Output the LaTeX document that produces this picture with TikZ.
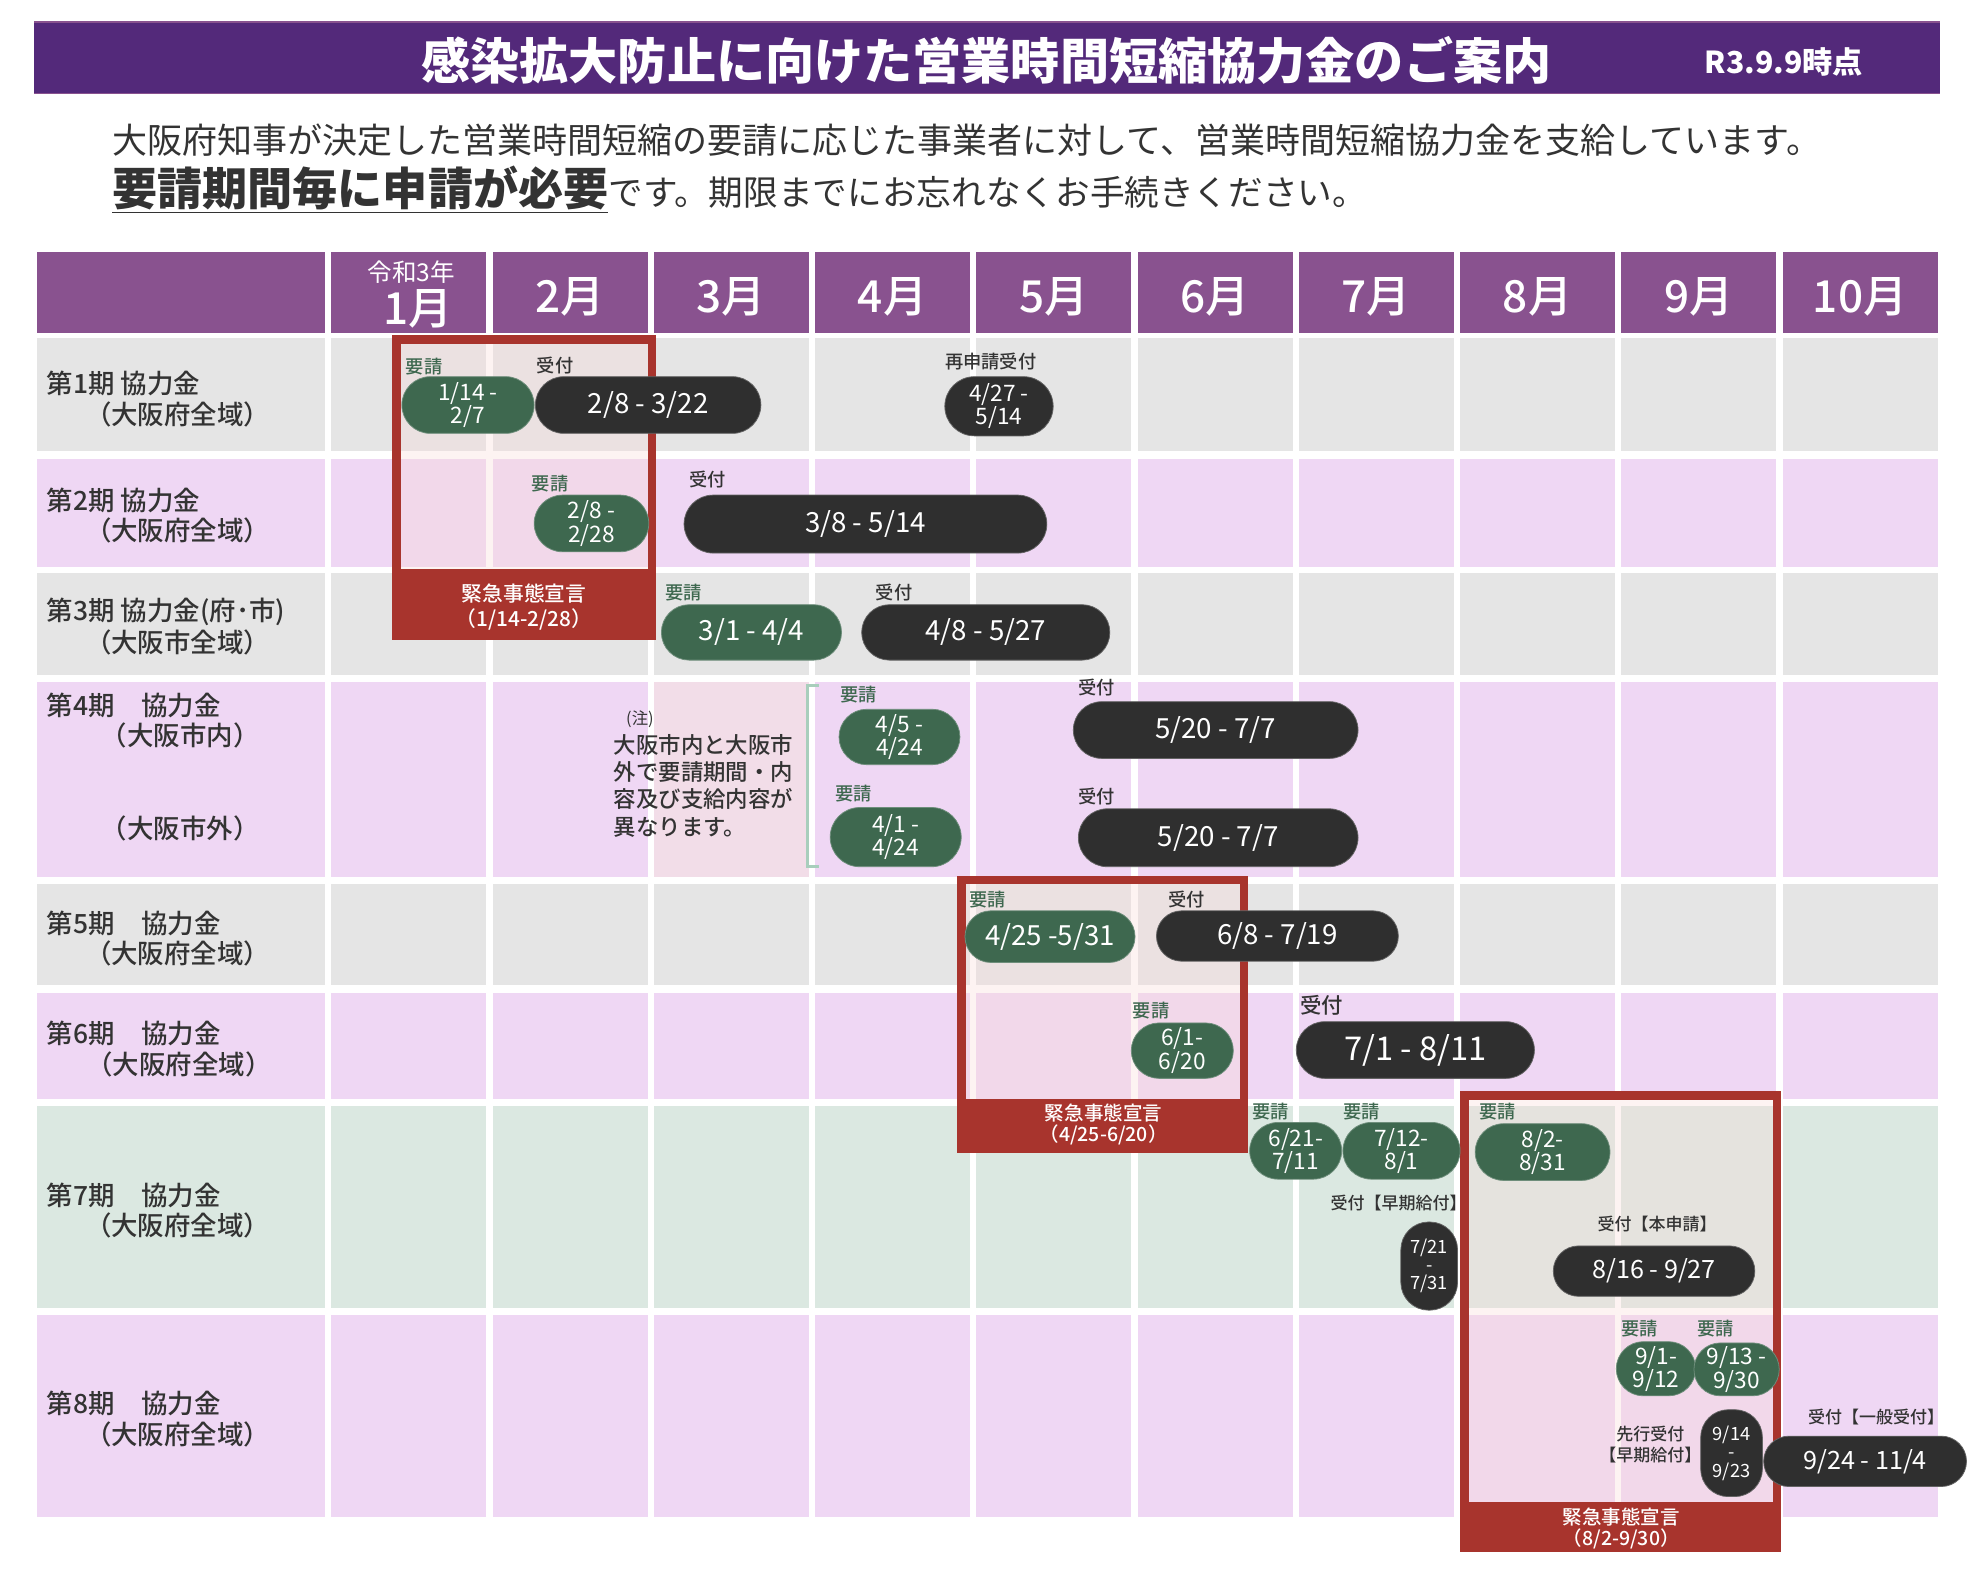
\documentclass[tikz,border=0pt]{standalone}
\usepackage{fontspec}
\setmainfont{Noto Sans CJK JP}
\newfontfamily\jpmed{Noto Sans CJK JP Medium}
\usetikzlibrary{positioning, shapes.misc}

\definecolor{titlepurple}{RGB}{83,41,122}
\definecolor{headpurple}{RGB}{137,82,143}
\definecolor{rowgray}{RGB}{229,229,229}
\definecolor{rowlav}{RGB}{239,215,244}
\definecolor{rowgreen}{RGB}{219,232,225}
\definecolor{notepink}{RGB}{242,221,232}
\definecolor{emred}{RGB}{168,52,45}
\definecolor{emfill}{RGB}{249,220,218}
\definecolor{pillgreen}{RGB}{62,104,79}
\definecolor{pillblack}{RGB}{47,47,47}
\definecolor{textdark}{RGB}{51,51,51}
\definecolor{bracketgreen}{RGB}{168,206,188}

\newcommand{\fsz}[2]{\fontsize{#1pt}{#2pt}\selectfont}

\begin{document}
\begin{tikzpicture}[x=1pt, y=-1pt,
        gpill/.style={rounded rectangle, fill=pillgreen, draw=pillgreen!75!white, line width=0.6pt, text=white, inner sep=0pt, align=center, font=\fsz{18}{18.5}},
        kpill/.style={gpill, fill=pillblack, draw=pillblack!75!white, font=\fsz{22}{24}},
        vpill/.style={kpill, rectangle, rounded corners=22pt, font=\fsz{14.5}{14.5}},
        twoline/.style={font=\fsz{18}{18.5}},
        oneline/.style={font=\fsz{22}{24}},
        req/.style={anchor=west, inner sep=0pt, text=pillgreen, font=\jpmed\fsz{14.5}{16}},
        acc/.style={req, text=textdark},
        period/.style={anchor=west, inner sep=0pt, text=textdark, font=\jpmed\fsz{21}{22}},
        area/.style={inner sep=0pt, text=textdark, font=\jpmed\fsz{21}{22}},
        month/.style={inner sep=0pt, text=white, font=\jpmed\fsz{35}{35}},
        emtext/.style={inner sep=0pt, text=white, align=center, font=\jpmed\fsz{16.5}{20}}
    ]
        \useasboundingbox (0,0) rectangle (1563,1254);

        % タイトル
        \fill[titlepurple] (27,17) rectangle (1540,75);
        \draw[headpurple, line width=1pt] (27,17.5) -- (1540,17.5) (27,74.5) -- (1540,74.5);
        \node[inner sep=0pt, text=white, font=\bfseries\fsz{39}{39}] (title) at (783,48) {感染拡大防止に向けた営業時間短縮協力金のご案内};
        \node[inner sep=0pt, text=white, font=\bfseries\fsz{24}{24}] (date) at (1416,49) {R3.9.9時点};

        % 説明文
        \node[anchor=base west, inner sep=0pt, text=textdark, font=\fsz{27.8}{30}] (lead1) at (89,122) {大阪府知事が決定した営業時間短縮の要請に応じた事業者に対して、営業時間短縮協力金を支給しています。};
        \node[anchor=base west, inner sep=0pt, text=textdark] (lead2) at (89,163.5) {{\bfseries\fsz{35.8}{38}\underline{要請期間毎に申請が必要}}{\fsz{27.5}{30}です。期限までにお忘れなくお手続きください。}};

        % 見出し行
        \fill[headpurple] (29,200) rectangle (258,264);
        \foreach \m in {0,...,9}
            \fill[headpurple] ({263+128*\m},200) rectangle ({386+128*\m},264);
        \node[inner sep=0pt, text=white, font=\fsz{19.5}{20}] (reiwa) at (326.5,216) {令和3年};
        \node[month] (mon0) at (332,245) {1月};
        \foreach \m/\lab in {1/2月,2/3月,3/4月,4/5月,5/6月,6/7月,7/8月,8/9月,9/10月}
            \node[month] (mon\m) at ({324.5+128*\m},236) {\lab};

        % 各期の行
        \foreach \ya/\yb/\rc in {268/358/rowgray, 364/450/rowlav, 455/536/rowgray, 541/696/rowlav,
                                 702/782/rowgray, 788/872/rowlav, 878/1038/rowgreen, 1044/1204/rowlav} {
            \fill[\rc] (29,\ya) rectangle (258,\yb);
            \foreach \m in {0,...,9}
                \fill[\rc] ({263+128*\m},\ya) rectangle ({386+128*\m},\yb);
        }
        \fill[notepink] (519,541) rectangle (642,696);

        % 行ラベル
        \node[period] (p1) at (37,304) {第1期 協力金};
        \node[area] (p1a) at (141,329) {（大阪府全域）};
        \node[period] (p2) at (37,397) {第2期 協力金};
        \node[area] (p2a) at (141,421) {（大阪府全域）};
        \node[period] (p3) at (37,486) {第3期 協力金(府･市)};
        \node[area] (p3a) at (141,510) {（大阪市全域）};
        \node[period] (p4) at (37,560) {第4期　協力金};
        \node[area] (p4a) at (143,584) {（大阪市内）};
        \node[area] (p4b) at (143,658) {（大阪市外）};
        \node[period] (p5) at (37,733) {第5期　協力金};
        \node[area] (p5a) at (141,757) {（大阪府全域）};
        \node[period] (p6) at (37,820) {第6期　協力金};
        \node[area] (p6a) at (142,845) {（大阪府全域）};
        \node[period] (p7) at (37,949) {第7期　協力金};
        \node[area] (p7a) at (141,973) {（大阪府全域）};
        \node[period] (p8) at (37,1114) {第8期　協力金};
        \node[area] (p8a) at (141,1139) {（大阪府全域）};

        % 注記
        \node[inner sep=0pt, text=textdark, font=\fsz{13}{15}] (noteh) at (508,571) {(注)};
        \node[anchor=west, inner sep=0pt, align=left, text=textdark, font=\jpmed\fsz{17.8}{21.7}] (note) at (487,623.5) {大阪市内と大阪市\\外で要請期間・内\\容及び支給内容が\\異なります。};
        \draw[bracketgreen, line width=2.5pt] (650,544) -- (641,544) -- (641,688) -- (650,688);

        % 緊急事態宣言
        \fill[emfill, fill opacity=0.35] (318,273) rectangle (514,452);
        \draw[emred, line width=7pt] (314.5,269.5) rectangle (517.5,455.5);
        \fill[emred] (311,452) rectangle (521,508);
        \node[emtext] (em1) at (416,482) {緊急事態宣言\\（1/14-2/28）};

        \fill[emfill, fill opacity=0.35] (767,702) rectangle (984,872);
        \draw[emred, line width=7pt] (763.5,698.5) rectangle (987.5,875.5);
        \fill[emred] (760,872) rectangle (991,915);
        \node[emtext, font=\jpmed\fsz{15.5}{17}] (em2) at (876,892.5) {緊急事態宣言\\（4/25-6/20）};

        \fill[emfill, fill opacity=0.35] (1166,873) rectangle (1407,1192);
        \draw[emred, line width=7pt] (1162.5,869.5) rectangle (1410.5,1195.5);
        \fill[emred] (1159,1192) rectangle (1414,1232);
        \node[emtext, font=\jpmed\fsz{15.5}{17}] (em3) at (1287,1213.5) {緊急事態宣言\\（8/2-9/30）};

        % 第1期
        \node[req] (r1q) at (322,291) {要請};
        \node[gpill, minimum width=105pt, minimum height=45pt] (r1g) at (371.5,321.5) {1/14 -\\2/7};
        \node[acc] (r1u) at (426,290) {受付};
        \node[kpill, minimum width=179pt, minimum height=45pt] (r1k) at (514.5,321.5) {2/8 - 3/22};
        \node[acc] (r1s) at (750,287) {再申請受付};
        \node[kpill, twoline, minimum width=86pt, minimum height=47pt] (r1r) at (793,322.5) {4/27 -\\5/14};

        % 第2期
        \node[req] (r2q) at (422,384) {要請};
        \node[gpill, minimum width=91pt, minimum height=45pt] (r2g) at (469.5,415.5) {2/8 -\\2/28};
        \node[acc] (r2u) at (547,381) {受付};
        \node[kpill, minimum width=288pt, minimum height=46pt] (r2k) at (687,416) {3/8 - 5/14};

        % 第3期
        \node[req] (r3q) at (528,470) {要請};
        \node[gpill, oneline, minimum width=143pt, minimum height=44pt] (r3g) at (596.5,502) {3/1 - 4/4};
        \node[acc] (r3u) at (695,470) {受付};
        \node[kpill, minimum width=197pt, minimum height=44pt] (r3k) at (782.5,502) {4/8 - 5/27};

        % 第4期
        \node[req] (r4q) at (667,551) {要請};
        \node[gpill, minimum width=96pt, minimum height=44pt] (r4g) at (714,585) {4/5 -\\4/24};
        \node[acc] (r4u) at (856,546) {受付};
        \node[kpill, minimum width=226pt, minimum height=45pt] (r4k) at (965,579.5) {5/20 - 7/7};
        \node[req] (r4q2) at (663,630) {要請};
        \node[gpill, minimum width=104pt, minimum height=47pt] (r4g2) at (711,664.5) {4/1 -\\4/24};
        \node[acc] (r4u2) at (856,632) {受付};
        \node[kpill, minimum width=222pt, minimum height=46pt] (r4k2) at (967,665) {5/20 - 7/7};

        % 第5期
        \node[req] (r5q) at (769,714) {要請};
        \node[gpill, oneline, minimum width=135pt, minimum height=41pt] (r5g) at (833.5,743.5) {4/25 -5/31};
        \node[acc] (r5u) at (927,714) {受付};
        \node[kpill, minimum width=192pt, minimum height=40pt] (r5k) at (1014,743) {6/8 - 7/19};

        % 第6期
        \node[req] (r6q) at (899,802) {要請};
        \node[gpill, minimum width=81pt, minimum height=44pt] (r6g) at (938.5,834) {6/1-\\6/20};
        \node[acc, font=\jpmed\fsz{17}{18}] (r6u) at (1032,798) {受付};
        \node[kpill, font=\fsz{26}{28}, minimum width=189pt, minimum height=45pt] (r6k) at (1123.5,833.5) {7/1 - 8/11};

        % 第7期
        \node[req] (r7q) at (994,882) {要請};
        \node[gpill, minimum width=73pt, minimum height=45pt] (r7g) at (1028.5,913.5) {6/21-\\7/11};
        \node[req] (r7q2) at (1066,882) {要請};
        \node[gpill, minimum width=93pt, minimum height=45pt] (r7g2) at (1112.5,913.5) {7/12-\\8/1};
        \node[req] (r7q3) at (1174,882) {要請};
        \node[gpill, minimum width=107pt, minimum height=45pt] (r7g3) at (1224.5,914.5) {8/2-\\8/31};
        \node[acc, font=\jpmed\fsz{13.5}{15}] (r7u) at (1056,955) {受付【早期給付】};
        \node[vpill, minimum width=45pt, minimum height=70pt] (r7v) at (1134.5,1005) {7/21\\-\\7/31};
        \node[acc, font=\jpmed\fsz{13.5}{15}] (r7u2) at (1268,972) {受付【本申請】};
        \node[kpill, font=\fsz{20}{22}, minimum width=160pt, minimum height=40pt] (r7k) at (1313,1009) {8/16 - 9/27};

        % 第8期
        \node[req] (r8q) at (1287,1055) {要請};
        \node[gpill, minimum width=63pt, minimum height=43pt] (r8g) at (1314.5,1086.5) {9/1-\\9/12};
        \node[req] (r8q2) at (1347,1055) {要請};
        \node[gpill, minimum width=67pt, minimum height=42pt] (r8g2) at (1378.5,1087) {9/13 -\\9/30};
        \node[inner sep=0pt, align=center, text=textdark, font=\jpmed\fsz{13.5}{17}] (r8s) at (1310,1146.5) {先行受付\\【早期給付】};
        \node[vpill, minimum width=49pt, minimum height=69pt] (r8v) at (1374.5,1153.5) {9/14\\-\\9/23};
        \node[acc, font=\jpmed\fsz{13.5}{15}] (r8u) at (1435,1125) {受付【一般受付】};
        \node[kpill, font=\fsz{20}{22}, minimum width=161pt, minimum height=40pt] (r8k) at (1480.5,1160) {9/24 - 11/4};

    \end{tikzpicture}
\end{document}
